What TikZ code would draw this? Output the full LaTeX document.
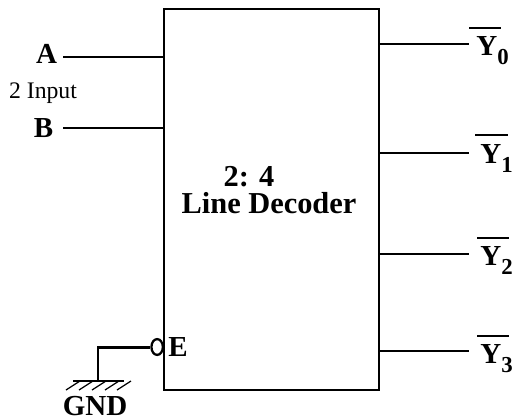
\documentclass[tikz,border=0pt]{standalone}
\usepackage{fontspec}
\setmainfont{Liberation Serif}
\usetikzlibrary{shapes.geometric, positioning, calc}

\begin{document}
\begin{tikzpicture}[
    x=0.02cm, y=-0.02cm,
    decoder/.style={draw, rectangle, line width=1.2pt, minimum width=4.3cm, minimum height=7.62cm, inner sep=0pt},
    label/.style={font=\bfseries\fontsize{16.5}{18}\selectfont, inner sep=0pt},
    outlabel/.style={font=\bfseries\fontsize{16.5}{18}\selectfont, inner sep=0pt, anchor=base west},
    title/.style={font=\bfseries\fontsize{17.3}{20}\selectfont, inner sep=0pt, anchor=base},
    inwire/.style={line width=1.7pt},
    outwire/.style={line width=0.9pt},
    bar/.style={line width=0.9pt}
]
\useasboundingbox (0,0) rectangle (513,419);

% Decoder block
\node[decoder] (block) at (271.5,199.5) {};
\node[title] (ratio) at (249,186) {2: 4};
\node[title] (name) at (269,213) {Line Decoder};

% Inputs
\node[label] (a) at (46.5,54) {A};
\node[label] (b) at (43.5,128) {B};
\node[font=\fontsize{13.5}{15}\selectfont, inner sep=0pt] (input) at (43,93) {2 Input};
\coordinate (aend) at (63,57);
\coordinate (bend) at (63,128);
\draw[inwire] (aend) -- (aend -| block.west);
\draw[inwire] (bend) -- (bend -| block.west);

% Outputs
\foreach \i/\ypos/\xlab/\xa/\xb/\ybar/\ybase in {0/44/476/469/501/28/55, 1/153/480/475/508/135/163, 2/254/480/477/509/238/265, 3/351/480/477/509/336/363} {
    \coordinate (out\i) at (469,\ypos);
    \draw[outwire] (out\i -| block.east) -- (out\i);
    \node[outlabel] (y\i) at (\xlab,\ybase) {Y\raisebox{-5.2pt}{\fontsize{13}{15}\selectfont\i}};
    \draw[bar] (\xa,\ybar) -- (\xb,\ybar);
}

% Enable and ground
\coordinate (enable) at (164,347);
\node[draw, ellipse, line width=1.3pt, minimum width=6.5pt, minimum height=9pt, inner sep=0pt, left=0pt of enable] (bubble) {};
\node[label, right=2.3pt of enable] (e) {E};
\coordinate (corner) at (98,347);
\coordinate (gnd) at (98,381);
\draw[inwire] (bubble.west) -- (corner) -- (gnd);
\coordinate (hatchl) at (73,381);
\coordinate (hatchr) at (124,381);
\draw[line width=0.9pt] (hatchl) -- (hatchr);
\foreach \x in {80,93,106,119,131} {
    \draw[line width=0.7pt] (\x,381) -- (\x-14,390);
}
\node[label] (gndtext) at (95,406) {GND};

\end{tikzpicture}
\end{document}
